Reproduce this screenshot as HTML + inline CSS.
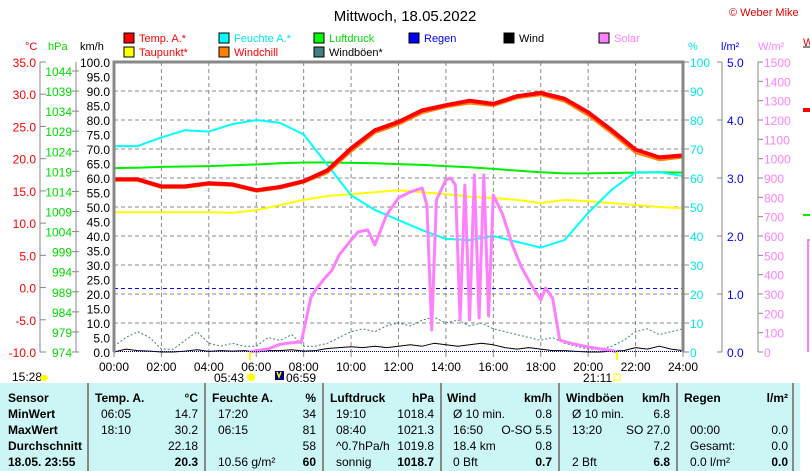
<!DOCTYPE html>
<html><head><meta charset="utf-8"><style>
body{margin:0;background:#fff;width:810px;height:471px;overflow:hidden}
svg{display:block;font-family:"Liberation Sans",sans-serif}
</style></head><body>
<svg id="c" width="810" height="471" viewBox="0 0 810 471">
<g id="static"></g>
</svg>
<script>
const hours=[0,1,2,3,4,5,6,7,8,9,10,11,12,13,14,15,16,17,18,19,20,21,22,23,24];
const tempA=[16.8,16.8,15.7,15.7,16.2,16.0,15.1,15.6,16.5,18.2,21.6,24.4,25.7,27.5,28.3,29.0,28.5,29.7,30.2,29.3,27.2,24.4,21.4,20.2,20.5];
const dewPoint=[11.7,11.7,11.7,11.7,11.7,11.6,12.0,12.8,13.6,14.2,14.5,14.8,15.1,14.8,14.5,14.1,13.9,13.6,13.1,13.6,13.4,13.1,12.8,12.5,12.3];
const windChill=[16.8,16.8,15.7,15.7,16.2,16.0,15.1,15.6,16.5,18.0,21.3,24.2,25.5,27.3,28.2,28.8,28.4,29.6,30.1,29.1,26.9,24.1,21.1,20.0,20.4];
const humidity=[71,71,74,76.5,76,78.6,80,79,75,64.5,54,49,45.5,42,39,38.6,40,38,36,38.6,48,56,62,62,60.7];
const pressure=[1019.8,1019.9,1020.1,1020.2,1020.3,1020.5,1020.7,1021.0,1021.2,1021.2,1021.1,1021.0,1020.8,1020.6,1020.3,1020.0,1019.6,1019.2,1018.8,1018.5,1018.5,1018.6,1018.7,1018.8,1018.7];
const solarTimes=[5.7,6.5,7.0,7.5,7.9,8.1,8.3,8.5,8.9,9.2,9.5,10.0,10.3,10.7,11.0,11.5,12.0,12.5,13.0,13.2,13.4,13.6,14.0,14.2,14.4,14.6,14.8,15.0,15.2,15.4,15.6,15.8,16.0,16.4,16.8,17.2,17.6,18.0,18.2,18.5,18.8,19.2,19.6,20.0,20.5,21.0,21.2];
const solar=[0,16,40,48,52,166,280,321,383,424,502,579,621,631,554,709,797,828,848,760,114,786,890,900,864,166,864,166,916,176,916,186,812,709,554,435,347,269,331,279,62,47,36,26,16,8,0];
const halfHours=[0,0.5,1,1.5,2,2.5,3,3.5,4,4.5,5,5.5,6,6.5,7,7.5,8,8.5,9,9.5,10,10.5,11,11.5,12,12.5,13,13.5,14,14.5,15,15.5,16,16.5,17,17.5,18,18.5,19,19.5,20,20.5,21,21.5,22,22.5,23,23.5,24];
const gusts=[2,5,7,5,1,1,4,7,3,2,3,2,2,5,4,6,2,2,3,5,7,8,7,9,10,9,11,12,10,11,9,10,8,7,6,5,4,5,3,2,1,1,2,4,7,8,6,7,8];
const wind=[0,1,0.5,0.3,0,0,0.3,0.8,0.2,0.5,0.3,0.5,0,0.5,0.5,0.8,0.3,0.5,1.2,1.5,1.8,1.5,2,1.5,2,2.5,2,3,2.5,2,2.5,3,2.5,1.5,1,1.5,1,0.5,0.5,0.2,0,0,0.3,0.5,1.5,1,2,1,0.5];
const xTicks=["00:00","02:00","04:00","06:00","08:00","10:00","12:00","14:00","16:00","18:00","20:00","22:00","24:00"];
const cTicks=["35.0","30.0","25.0","20.0","15.0","10.0","5.0","0.0","-5.0","-10.0"];
const hpaTicks=["1044","1039","1034","1029","1024","1019","1014","1009","1004","999","994","989","984","979","974"];
const kmhTicks=["100.0","95.0","90.0","85.0","80.0","75.0","70.0","65.0","60.0","55.0","50.0","45.0","40.0","35.0","30.0","25.0","20.0","15.0","10.0","5.0","0.0"];
const pctTicks=["100","90","80","70","60","50","40","30","20","10","0"];
const rainTicks=["5.0","4.0","3.0","2.0","1.0","0.0"];
const wmTicks=["1500","1400","1300","1200","1100","1000","900","800","700","600","500","400","300","200","100","0"];

const X0=114,X1=683,Y0=62,Y1=352;
const xS=h=>X0+h*(X1-X0)/24;
const yC=t=>Y1-(t+10)*(Y1-Y0)/45;
const yP=p=>Y1-(p-974)*(Y1-Y0)/70*(281/290);
const yK=v=>Y1-v*(Y1-Y0)/100;
const yW=s=>Y1-s*(Y1-Y0)/1500;
const svg=document.getElementById('c');
const NS='http://www.w3.org/2000/svg';
function mk(tag,attrs,txt){const e=document.createElementNS(NS,tag);for(const k in attrs)e.setAttribute(k,attrs[k]);if(txt!==undefined)e.textContent=txt;svg.appendChild(e);return e;}
function txt(x,y,s,fill,size,anchor,weight){const e=mk('text',{x:x,y:y,fill:fill,'font-size':size,'text-anchor':anchor||'start','font-weight':weight||'normal'},s);return e;}

let t=txt(405,21,"Mittwoch, 18.05.2022","#000",15,"middle");

t=txt(729,16,"© Weber Mike","#e00000",11);


const leg=[["Temp. A.*","#ff0000","#ff0000",124,42],["Feuchte A.*","#00ffff","#00e8e8",219,42],["Luftdruck","#00ff00","#00dd00",314,42],["Regen","#0000ff","#0000ff",409,42],["Wind","#000","#000",504,42],["Solar","#ff80ff","#ff80ff",599,42],["Taupunkt*","#ffff00","#ff0000",124,56],["Windchill","#ff8000","#ff0000",219,56],["Windböen*","#408080","#000",314,56]];
leg.forEach(l=>{const g=document.createElementNS(NS,'g');


svg.appendChild(g);
const r=document.createElementNS(NS,'rect');r.setAttribute('x',l[3]);r.setAttribute('y',l[4]-9);r.setAttribute('width',10);r.setAttribute('height',10);r.setAttribute('fill',l[1]);r.setAttribute('stroke','#000');g.appendChild(r);
const tx=document.createElementNS(NS,'text');tx.setAttribute('x',l[3]+15);tx.setAttribute('y',l[4]);tx.setAttribute('fill',l[2]);tx.setAttribute('font-size',11);tx.textContent=l[0];g.appendChild(tx);});

[["°C",25,"#ff0000"],["hPa",48,"#00dd00"],["km/h",80,"#000"],["%",688,"#00e8e8"],["l/m²",721,"#0000ff"],["W/m²",758,"#ff80ff"]].forEach(a=>{const e=txt(a[1],50,a[0],a[2],11);

});

for(let i=1;i<12;i++){const e=mk('line',{x1:xS(i*2),x2:xS(i*2),y1:Y0,y2:Y1,stroke:'#888','stroke-dasharray':'4,3'});

}
for(let v=10;v<100;v+=10){const e=mk('line',{x1:X0,x2:X1,y1:yK(v),y2:yK(v),stroke:'#888','stroke-dasharray':'4,3'});

}
const z=Math.round(yC(0))+0.5;
let e0=mk('line',{x1:X0,x2:X1,y1:z,y2:z,stroke:'#0000ff','stroke-width':1,'stroke-dasharray':'4,3'});



mk('line',{x1:40,x2:40,y1:Y0,y2:Y1,stroke:'#888'});
cTicks.forEach((s,i)=>{const y=Y0+i*(Y1-Y0)/9;mk('line',{x1:40,x2:46,y1:y,y2:y,stroke:'#888'});const e=txt(36,y+5,s,"#ff0000",12,"end");

});
mk('line',{x1:76,x2:76,y1:Y0,y2:Y1,stroke:'#888'});
hpaTicks.forEach((s,i)=>{const y=71+i*281/14;mk('line',{x1:72,x2:79,y1:y,y2:y,stroke:'#888'});const e=txt(72,y+5,s,"#00dd00",12,"end");

});
kmhTicks.forEach((s,i)=>{const y=Y0+i*(Y1-Y0)/20;const e=txt(110,y+5,s,"#000",12,"end");

});
pctTicks.forEach((s,i)=>{const y=Y0+i*29;mk('line',{x1:X1,x2:X1+6,y1:y,y2:y,stroke:'#888'});const e=txt(690,y+5,s,"#00e8e8",12);

});
mk('line',{x1:722,x2:722,y1:Y0,y2:Y1,stroke:'#888'});
rainTicks.forEach((s,i)=>{const y=Y0+i*58;mk('line',{x1:717,x2:722,y1:y,y2:y,stroke:'#888'});const e=txt(727,y+5,s,"#0000ff",12);

});
mk('line',{x1:758,x2:758,y1:Y0,y2:Y1,stroke:'#888'});
wmTicks.forEach((s,i)=>{const y=Y0+i*290/15;mk('line',{x1:758,x2:763,y1:y,y2:y,stroke:'#888'});const e=txt(764,y+5,s,"#ff80ff",12);

});
xTicks.forEach((s,i)=>{const x=xS(i*2);mk('line',{x1:x,x2:x,y1:Y1,y2:Y1+5,stroke:'#888'});const e=txt(x,371,s,"#000",12,"middle");

});

function line(xs,ys,color,w,name,dash){const d=xs.map((x,i)=>(i?'L':'M')+x.toFixed(1)+','+ys[i].toFixed(1)).join('');
const p=mk('path',{d:d,fill:'none',stroke:color,'stroke-width':w,'stroke-linejoin':'round'});
if(dash)p.setAttribute('stroke-dasharray',dash);

return p;}

line(halfHours.map(xS),gusts.map(yK),'#408080',1,'windgust-line','2,2');
line(halfHours.map(xS),wind.map(yK),'#000',1,'wind-line');
line(hours.map(xS),pressure.map(yP),'#00ee00',2,'pressure-line');
line(hours.map(xS),dewPoint.map(yC),'#ffff00',2,'dewpoint-line');
line(hours.map(xS),humidity.map(yK),'#00ffff',2,'humidity-line');
line(solarTimes.map(xS),solar.map(yW),'#ff80ff',3,'solar-line');
line(hours.map(xS),windChill.map(yC).map(y=>y+1.5),'#ff8000',2,'windchill-line');
line(hours.map(xS),tempA.map(yC),'#ff0000',4,'temperature-line');
mk('line',{x1:X0,x2:X1,y1:Y1-0.5,y2:Y1-0.5,stroke:'#000080','stroke-dasharray':'1,1'});

let fr=mk('path',{d:`M${X0},${Y1}V${Y0}H${X1}V${Y1}`,fill:'none',stroke:'#888','stroke-width':3});



mk('line',{x1:250,x2:250,y1:Y1,y2:Y1+8,stroke:'#ffff00','stroke-width':2});
mk('line',{x1:617,x2:617,y1:Y1,y2:Y1+8,stroke:'#ffff00','stroke-width':2});
txt(12,381,"15:28","#000",12);
mk('ellipse',{cx:44,cy:378,rx:4,ry:3,fill:'#ffff00'});
txt(244,382,"05:43","#000",12,"end");
mk('circle',{cx:251,cy:377,r:4,fill:'#ffff00'});
mk('rect',{x:275,y:371,width:9,height:9,fill:'#000080'});
mk('path',{d:'M277,372l2,5l2,-5',stroke:'#ffff00',fill:'none','stroke-width':1.5});
txt(286,382,"06:59","#000",12);
txt(583,382,"21:11","#000",12);
mk('rect',{x:614,y:374,width:6,height:6,fill:'none',stroke:'#ffff00'});

txt(803,46,"W","#e00000",11);
mk('line',{x1:803,x2:810,y1:47,y2:47,stroke:'#888','stroke-width':2});
mk('rect',{x:803,y:108,width:7,height:4,fill:'#ff0000'});
mk('line',{x1:803,x2:810,y1:215,y2:215,stroke:'#00ee00','stroke-width':2});
mk('path',{d:'M808,352V240H810',stroke:'#ff80ff',fill:'none','stroke-width':2});

const tb=mk('rect',{x:0,y:383,width:800,height:88,fill:'#ccf5f5'});


[88,205,323,441,559,677,793].forEach(x=>mk('line',{x1:x,x2:x,y1:383,y2:471,stroke:'#888','stroke-width':2}));
const rowsY=[402,418,434,450,466];
const cols=[
 [8,null,["Sensor","MinWert","MaxWert","Durchschnitt","18.05. 23:55"],true],
 [95,null,["Temp. A.","06:05","18:10","",""],false],
 [198,"end",["°C","14.7","30.2","22.18","20.3"],false],
 [212,null,["Feuchte A.","17:20","06:15","","10.56 g/m²"],false],
 [316,"end",["%","34","81","58","60"],false],
 [330,null,["Luftdruck","19:10","08:40","^0.7hPa/h","sonnig"],false],
 [434,"end",["hPa","1018.4","1021.3","1019.8","1018.7"],false],
 [447,null,["Wind","Ø 10 min.","16:50","18.4 km","0 Bft"],false],
 [552,"end",["km/h","0.8","O-SO 5.5","0.8","0.7"],false],
 [566,null,["Windböen","Ø 10 min.","13:20","","2 Bft"],false],
 [670,"end",["km/h","6.8","SO 27.0","7.2","6.8"],false],
 [684,null,["Regen","","00:00","Gesamt:","0.0 l/m²"],false],
 [788,"end",["l/m²","","0.0","0.0","0.0"],false]];
cols.forEach(c=>{c[2].forEach((s,i)=>{if(!s)return;
 let bold=c[3]||i===0||(i===4&&c[1]==="end");
 let x=c[0];if(!c[3]&&i>0&&!c[1])x+=6;
 const e=txt(x,rowsY[i],s,"#000",12,c[1]||"start",bold?"bold":"normal");
 
 });});
</script>
</body></html>
